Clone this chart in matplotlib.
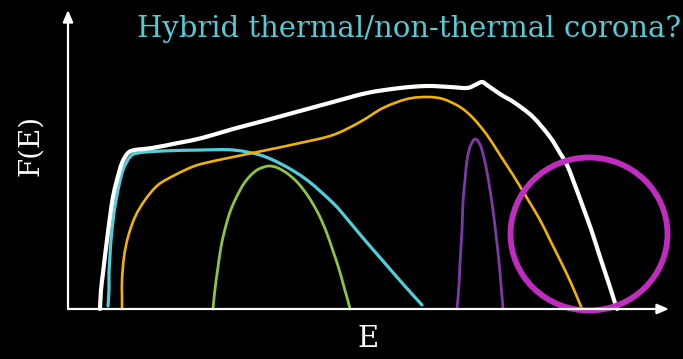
import matplotlib
matplotlib.use("Agg")
import matplotlib.pyplot as plt
import numpy as np
from matplotlib.patches import Ellipse, PathPatch
from matplotlib.path import Path

# Schematic spectral components: (E, F) samples of each curve
total_E = [32, 33, 35, 37, 39, 42, 45, 49, 54, 60, 67, 84, 110, 134, 165, 199, 232, 265, 299,
           332, 359, 382, 399, 407, 414, 419, 432, 447, 465, 482, 492, 499, 505, 515, 524, 532,
           540, 547, 549]
total_F = [0, 19, 36, 53, 69, 92, 112, 129, 146, 156, 159, 161, 166, 171, 180, 189, 198, 207,
           216, 221, 223, 222, 221, 224, 227, 224, 215, 206, 192, 172, 156, 144, 129, 102, 77,
           52, 28, 6, 0]

plateau_E = [40, 41, 41, 42, 43, 46, 50, 55, 62, 70, 94, 134, 165, 192, 215, 239, 265, 280,
             295, 315, 335, 354]
plateau_F = [3, 19, 36, 53, 69, 96, 119, 139, 152, 156, 158, 159, 159, 154, 144, 129, 106, 89,
             71, 48, 25, 4]

broad_E = [54, 54, 54, 56, 60, 67, 77, 90, 107, 124, 137, 165, 199, 232, 265, 292, 315, 339,
           359, 375, 392, 405, 419, 432, 445, 459, 472, 482, 492, 503, 514]
broad_F = [0, 14, 29, 52, 72, 92, 109, 124, 134, 142, 146, 152, 159, 166, 174, 187, 201, 210,
           212, 210, 202, 191, 174, 154, 134, 111, 89, 69, 49, 26, 0]

warm_E = [145, 147, 150, 153, 157, 162, 168, 175, 182, 189, 196, 202, 210, 220, 230, 240, 250,
          258, 265, 271, 276, 280, 282]
warm_F = [0, 20, 42, 62, 80, 97, 111, 124, 133, 139, 142, 143, 141, 135, 126, 113, 96, 78,
          58, 40, 22, 8, 0]

narrow_E = [389, 391, 392, 394, 395, 397, 399, 402, 405, 407, 410, 413, 416, 419, 422, 425,
            428, 431, 433, 435]
narrow_F = [0, 24, 46, 79, 107, 129, 149, 162, 168, 170, 168, 162, 151, 137, 119, 99, 74, 47,
            24, 1]

E_label = "E"
F_label = "F(E)"
title_text = "Hybrid thermal/non-thermal corona?"


def smooth_path(xs, ys):
    """Cubic Bezier path passing through every sample (Catmull-Rom tangents)."""
    p = np.column_stack([xs, ys]).astype(float)
    ext = np.vstack([p[0], p, p[-1]])
    verts = [p[0]]
    codes = [Path.MOVETO]
    for i in range(len(p) - 1):
        p0, p1, p2, p3 = ext[i], ext[i + 1], ext[i + 2], ext[i + 3]
        verts += [p1 + (p2 - p0) / 6.0, p2 - (p3 - p1) / 6.0, p2]
        codes += [Path.CURVE4] * 3
    return Path(verts, codes)


fig = plt.figure(figsize=(6.83, 3.59), dpi=100, facecolor="black")
ax = fig.add_axes([0, 0, 1, 1])
ax.set_facecolor("black")
ax.set_xlim(-68, 615)
ax.set_ylim(-50, 309)
ax.axis("off")

# axes with arrowheads
ax.annotate("", xy=(601, 0), xytext=(0, 0),
            arrowprops=dict(arrowstyle="-|>,head_length=0.7,head_width=0.3",
                            color="white", lw=1.6, shrinkA=0, shrinkB=0))
ax.annotate("", xy=(0, 299), xytext=(0, 0),
            arrowprops=dict(arrowstyle="-|>,head_length=0.7,head_width=0.3",
                            color="white", lw=1.6, shrinkA=0, shrinkB=0))

curves = [
    (warm_E, warm_F, "#8cc63f", 2.0),
    (narrow_E, narrow_F, "#7b3aa6", 2.0),
    (plateau_E, plateau_F, "#4ecfdc", 2.3),
    (broad_E, broad_F, "#f2b200", 1.9),
    (total_E, total_F, "white", 3.0),
]
for xs, ys, col, lw in curves:
    ax.add_patch(PathPatch(smooth_path(xs, ys), fill=False, ec=col, lw=lw,
                           capstyle="round", joinstyle="round"))

ax.add_patch(Ellipse((521, 75), 157, 153, fill=False, ec="#c02cc0", lw=4.2))

fig.text(0.201, 0.897, title_text, color="#55cbd6", fontsize=21,
         family="DejaVu Serif", ha="left", va="baseline")
fig.text(0.045, 0.596, F_label, color="white", fontsize=20, rotation=90,
         family="DejaVu Serif", ha="center", va="center")
fig.text(0.539, 0.056, E_label, color="white", fontsize=21,
         family="DejaVu Serif", ha="center", va="center")

fig.savefig("out.png", dpi=100, facecolor="black")
